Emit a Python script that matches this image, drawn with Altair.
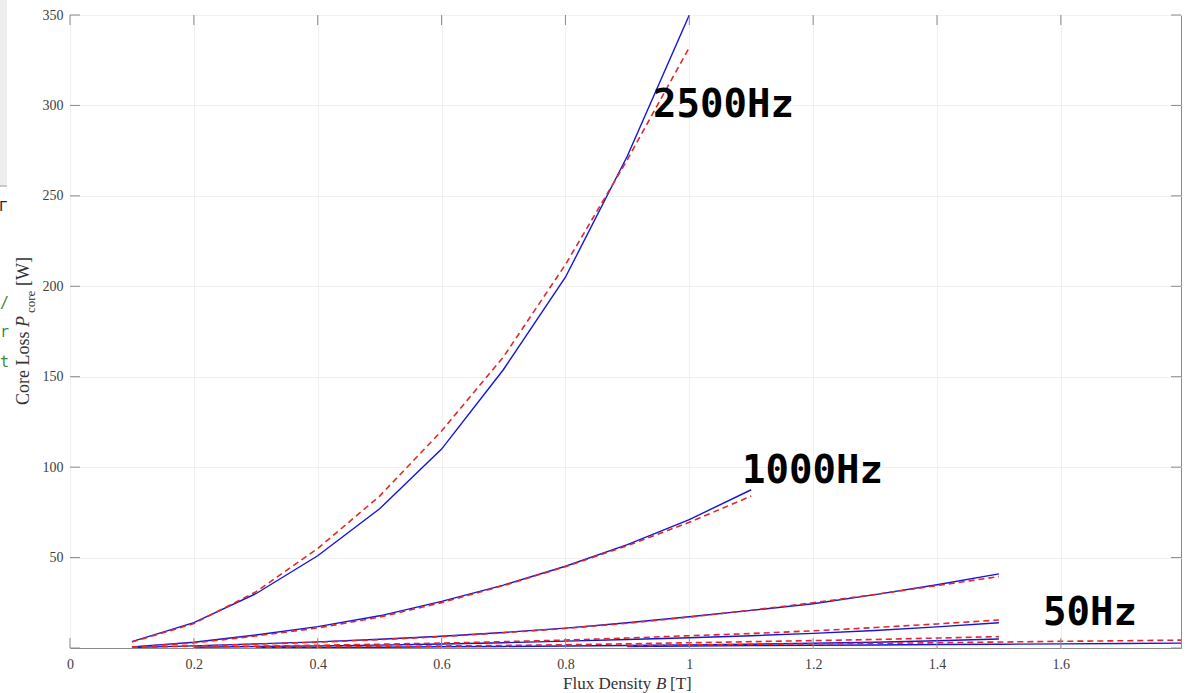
import altair as alt
import pandas as pd

# Flux density sweeps (T) and core loss (W): measured (solid) vs. model (dashed)
b_2500 = [0.1, 0.2, 0.3, 0.4, 0.5, 0.6, 0.7, 0.8, 0.9, 1.0]
meas_2500 = [3.5, 14, 30, 51, 77, 110, 154, 205, 272, 350]
model_2500 = [3.3, 13.5, 31, 55, 84, 120, 161, 212, 270, 332]

b_1000 = [0.1, 0.2, 0.3, 0.4, 0.5, 0.6, 0.7, 0.8, 0.9, 1.0, 1.1]
meas_1000 = [0.6, 3.2, 7.2, 11.8, 17.8, 25.8, 34.8, 45.2, 57.2, 71, 87.5]
model_1000 = [0.5, 2.8, 6.6, 11.1, 17.1, 25.1, 34.5, 45.0, 56.6, 69.5, 84]

b_400 = [0.1, 0.2, 0.3, 0.4, 0.5, 0.6, 0.7, 0.8, 0.9, 1.0, 1.1, 1.2, 1.3, 1.4, 1.5]
meas_400 = [0.3, 1.2, 2.3, 3.4, 4.8, 6.5, 8.6, 11, 14, 17.3, 20.8, 24.5, 29.5, 35, 41]
model_400 = [0.3, 1.1, 2.1, 3.2, 4.6, 6.3, 8.4, 10.8, 13.7, 17.1, 20.9, 25.0, 29.6, 34.5, 39.5]

b_200 = [0.2, 0.3, 0.4, 0.5, 0.6, 0.7, 0.8, 0.9, 1.0, 1.1, 1.2, 1.3, 1.4, 1.5]
meas_200 = [0.4, 0.8, 1.2, 1.6, 2.2, 2.9, 3.8, 4.7, 5.7, 6.8, 8.1, 9.7, 11.7, 14]
model_200 = [0.5, 1.0, 1.5, 2.1, 2.7, 3.5, 4.4, 5.5, 6.8, 8.0, 9.5, 11.3, 13.3, 15.5]

b_100 = [0.3, 0.4, 0.5, 0.6, 0.7, 0.8, 0.9, 1.0, 1.1, 1.2, 1.3, 1.4, 1.5]
meas_100 = [0.2, 0.3, 0.45, 0.65, 0.85, 1.1, 1.35, 1.7, 2.1, 2.6, 3.2, 4.0, 5.0]
model_100 = [0.4, 0.6, 0.85, 1.1, 1.4, 1.8, 2.3, 2.9, 3.5, 4.1, 4.7, 5.5, 6.3]

b_50 = [0.9, 1.0, 1.1, 1.2, 1.3, 1.4, 1.5, 1.6, 1.7, 1.8]
meas_50 = [0.8, 1.1, 1.3, 1.5, 1.7, 1.9, 2.1, 2.3, 2.5, 2.7]
model_50 = [1.3, 1.7, 2.0, 2.3, 2.6, 2.9, 3.3, 3.7, 4.0, 4.4]

x_ticks = [0, 0.2, 0.4, 0.6, 0.8, 1.0, 1.2, 1.4, 1.6]
y_ticks = [50, 100, 150, 200, 250, 300, 350]
y_tick_marks = [0] + y_ticks

series = [
    ("2500Hz", b_2500, meas_2500, model_2500),
    ("1000Hz", b_1000, meas_1000, model_1000),
    ("400Hz", b_400, meas_400, model_400),
    ("200Hz", b_200, meas_200, model_200),
    ("100Hz", b_100, meas_100, model_100),
    ("50Hz", b_50, meas_50, model_50),
]

meas_rows, model_rows = [], []
for freq, bs, ms, cs in series:
    for b, m, c in zip(bs, ms, cs):
        meas_rows.append({"freq": freq, "B": b, "P": m})
        model_rows.append({"freq": freq, "B": b, "P": c})
meas_df = pd.DataFrame(meas_rows)
model_df = pd.DataFrame(model_rows)

W, H = 1111, 633
AXIS_GRAY = "#8a8a8a"
SERIF = "Liberation Serif"

xs = alt.Scale(domain=[0, 1.794], nice=False, zero=False)
ys = alt.Scale(domain=[0, 350], nice=False, zero=False)

# one shared axis definition per channel, repeated in every layer so they merge
x_axis = alt.Axis(values=x_ticks, format="~g", title=None, labelPadding=9,
                  grid=True, labelFlush=False)
y_axis = alt.Axis(values=y_ticks, title=None, labelPadding=7, grid=True)

measured = alt.Chart(meas_df).mark_line(
    color="#1414dc", strokeWidth=1.4, clip=True
).encode(
    x=alt.X("B:Q", scale=xs, axis=x_axis, title=None),
    y=alt.Y("P:Q", scale=ys, axis=y_axis, title=None),
    detail="freq:N",
    order="B:Q",
)

model = alt.Chart(model_df).mark_line(
    color="#e02828", strokeWidth=1.6, strokeDash=[6, 4], clip=True
).encode(
    x=alt.X("B:Q", scale=xs, axis=x_axis, title=None),
    y=alt.Y("P:Q", scale=ys, axis=y_axis, title=None),
    detail="freq:N",
    order="B:Q",
)

# inward-pointing tick marks on all four sides of the box
xt = pd.DataFrame({"B": x_ticks})
yt = pd.DataFrame({"P": y_tick_marks})
tick_len = 10
bottom_ticks = alt.Chart(xt).mark_rule(color=AXIS_GRAY, strokeWidth=1).encode(
    x=alt.X("B:Q", scale=xs, axis=x_axis, title=None),
    y=alt.value(H), y2=alt.value(H - tick_len))
top_ticks = alt.Chart(xt).mark_rule(color=AXIS_GRAY, strokeWidth=1).encode(
    x=alt.X("B:Q", scale=xs, axis=x_axis, title=None),
    y=alt.value(0), y2=alt.value(tick_len))
left_ticks = alt.Chart(yt).mark_rule(color=AXIS_GRAY, strokeWidth=1).encode(
    y=alt.Y("P:Q", scale=ys, axis=y_axis, title=None),
    x=alt.value(0), x2=alt.value(tick_len))
right_ticks = alt.Chart(yt).mark_rule(color=AXIS_GRAY, strokeWidth=1).encode(
    y=alt.Y("P:Q", scale=ys, axis=y_axis, title=None),
    x=alt.value(W), x2=alt.value(W - tick_len))

one = pd.DataFrame({"k": [0]})


def label(text, x, y, size, font=SERIF, style="normal", color="#333333",
          angle=0, weight="normal", baseline="alphabetic"):
    return alt.Chart(one).mark_text(
        text=text, font=font, fontSize=size, fontStyle=style, fontWeight=weight,
        color=color, align="left", baseline=baseline, angle=angle
    ).encode(x=alt.value(x), y=alt.value(y))


# axis titles, with italic symbols and subscript
y_title = [
    label("Core Loss", -41.5, 390, 18, angle=270),
    label("P", -41.5, 312, 18, style="italic", angle=270),
    label("core", -35, 298, 13, angle=270),
    label("[W]", -41.5, 271, 18, angle=270),
]
x_title = [
    label("Flux Density", 493, 674, 17),
    label("B", 586, 674, 17, style="italic"),
    label("[T]", 600, 674, 17),
]

# frequency annotations
MONO = "DejaVu Sans Mono"
freq_labels = [
    label("2500Hz", 583, 102, 39, font=MONO, color="#000000", weight="bold"),
    label("1000Hz", 672, 468, 39, font=MONO, color="#000000", weight="bold"),
    label("50Hz", 973, 610, 39, font=MONO, color="#000000", weight="bold"),
]

# side panel remnants at the far left edge
side_panel = alt.Chart(one).mark_rect(color="#eeeeee").encode(
    x=alt.value(-70), x2=alt.value(-63), y=alt.value(-15), y2=alt.value(170))
side_edge = alt.Chart(one).mark_rule(color="#b8b8b8", strokeWidth=1.5).encode(
    x=alt.value(-70), x2=alt.value(-63), y=alt.value(171))
side_text = [
    label("Γ", -71, 192, 14, font=MONO, color="#222222", baseline="middle"),
    label("/", -70, 288, 15, font=MONO, color="#3b8a3b", baseline="middle"),
    label("r", -70, 317, 15, font=MONO, color="#3b8a3b", baseline="middle"),
    label("t", -70, 347, 15, font=MONO, color="#3b8a3b", baseline="middle"),
]

chart = alt.layer(
    measured, model,
    bottom_ticks, top_ticks, left_ticks, right_ticks,
    side_panel, side_edge, *side_text,
    *y_title, *x_title, *freq_labels,
).properties(
    width=W, height=H,
    autosize=alt.AutoSizeParams(type="none"),
    padding={"left": 70, "top": 15, "right": 6, "bottom": 45},
).configure_view(
    stroke=AXIS_GRAY, strokeWidth=1
).configure_axis(
    domain=False, ticks=False, labelFont=SERIF, labelFontSize=14,
    labelColor="#404040", gridColor="#f0f0f0", gridWidth=1,
)

chart.save("out.html", embed_options={"renderer": "svg", "actions": False})
